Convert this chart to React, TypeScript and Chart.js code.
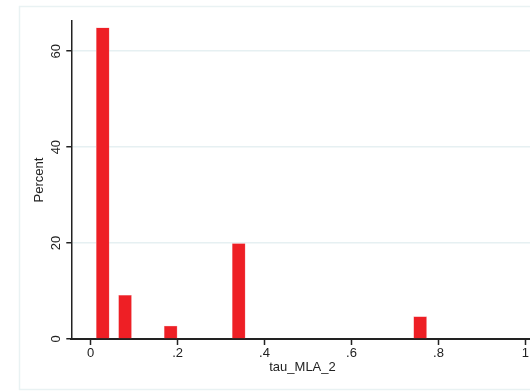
import React, { useEffect, useRef } from "react";
import { Chart, registerables } from "chart.js";

Chart.register(...registerables);

// Histogram bars (bin centre on tau_MLA_2, percent)
const binCenters = [0.028, 0.0792, 0.1842, 0.3407, 0.7578];
const percents = [64.9, 9.1, 2.7, 19.9, 4.65];

const xTickValues = [0, 0.2, 0.4, 0.6, 0.8, 1];
const xTickLabels = ["0", ".2", ".4", ".6", ".8", "1"];
const yTickValues = [0, 20, 40, 60];
const yTickLabels = ["0", "20", "40", "60"];

const xTitle = "tau_MLA_2";
const yTitle = "Percent";

const FONT = "'Liberation Sans', Arial, Helvetica, sans-serif";

const framePlugin = {
  id: "stataFrame",
  beforeDraw(chart: any) {
    const ctx = chart.ctx;
    ctx.save();
    ctx.fillStyle = "#ffffff";
    ctx.fillRect(0, 0, chart.width, chart.height);
    ctx.strokeStyle = "#e9f2f3";
    ctx.lineWidth = 1.5;
    ctx.strokeRect(19.5, 6.5, chart.width, 383);
    ctx.restore();
  },
};

export default function App() {
  const ref = useRef<HTMLCanvasElement | null>(null);

  useEffect(() => {
    if (!ref.current) return;
    const chart = new Chart(ref.current, {
      type: "bar",
      data: {
        datasets: [
          {
            label: "Percent",
            data: binCenters.map((x, i) => ({ x, y: percents[i] })),
            backgroundColor: "#ee1f25",
            borderColor: "#f4a3a6",
            borderWidth: 0.6,
            barThickness: 12.9,
          },
        ],
      },
      options: {
        animation: false,
        responsive: false,
        maintainAspectRatio: false,
        layout: { padding: { top: 21, right: 26.3, bottom: 0, left: 0 } },
        plugins: {
          legend: { display: false },
          tooltip: { enabled: false },
        },
        scales: {
          x: {
            type: "linear",
            min: -0.0444,
            max: 1.019,
            offset: false,
            afterFit: (s: any) => {
              s.height = 53;
            },
            afterBuildTicks: (s: any) => {
              s.ticks = xTickValues.map((v) => ({ value: v }));
            },
            ticks: {
              autoSkip: false,
              maxRotation: 0,
              minRotation: 0,
              padding: 1,
              color: "#222",
              font: { family: FONT, size: 13 },
              callback: (v: any) => {
                const i = xTickValues.findIndex((t) => Math.abs(t - Number(v)) < 1e-6);
                return i >= 0 ? xTickLabels[i] : "";
              },
            },
            grid: {
              offset: false,
              drawOnChartArea: false,
              drawTicks: true,
              tickLength: 6,
              tickColor: "#222",
              tickWidth: 1.5,
            },
            border: { display: true, color: "#222", width: 2 },
            title: {
              display: true,
              text: xTitle,
              color: "#222",
              font: { family: FONT, size: 13 },
              padding: { top: 0, bottom: 17 },
            },
          },
          y: {
            type: "linear",
            min: 0,
            max: 66.3,
            afterFit: (s: any) => {
              s.width = 71.3;
            },
            afterBuildTicks: (s: any) => {
              s.ticks = yTickValues.map((v) => ({ value: v }));
            },
            ticks: {
              autoSkip: false,
              minRotation: 90,
              maxRotation: 90,
              crossAlign: "center",
              padding: 3,
              color: "#222",
              font: { family: FONT, size: 13 },
              callback: (v: any) => {
                const i = yTickValues.findIndex((t) => Math.abs(t - Number(v)) < 1e-6);
                return i >= 0 ? yTickLabels[i] : "";
              },
            },
            grid: {
              offset: false,
              drawOnChartArea: true,
              drawTicks: true,
              tickLength: 5,
              tickColor: "#222",
              tickWidth: 1.5,
              lineWidth: 1.5,
              color: (c: any) => (c.tick && c.tick.value === 0 ? "rgba(0,0,0,0)" : "#e6f0f2"),
            },
            border: { display: true, color: "#222", width: 1.5 },
            title: {
              display: true,
              text: yTitle,
              color: "#222",
              font: { family: FONT, size: 13 },
              padding: { top: 32, bottom: 0 },
            },
          },
        },
      },
      plugins: [framePlugin],
    } as any);
    return () => chart.destroy();
  }, []);

  return (
    <div
      style={{
        position: "fixed",
        left: 0,
        top: 0,
        width: 530,
        height: 392,
        overflow: "hidden",
        background: "#fff",
      }}
    >
      <canvas ref={ref} width={560} height={392} style={{ width: 560, height: 392, display: "block" }} />
    </div>
  );
}
